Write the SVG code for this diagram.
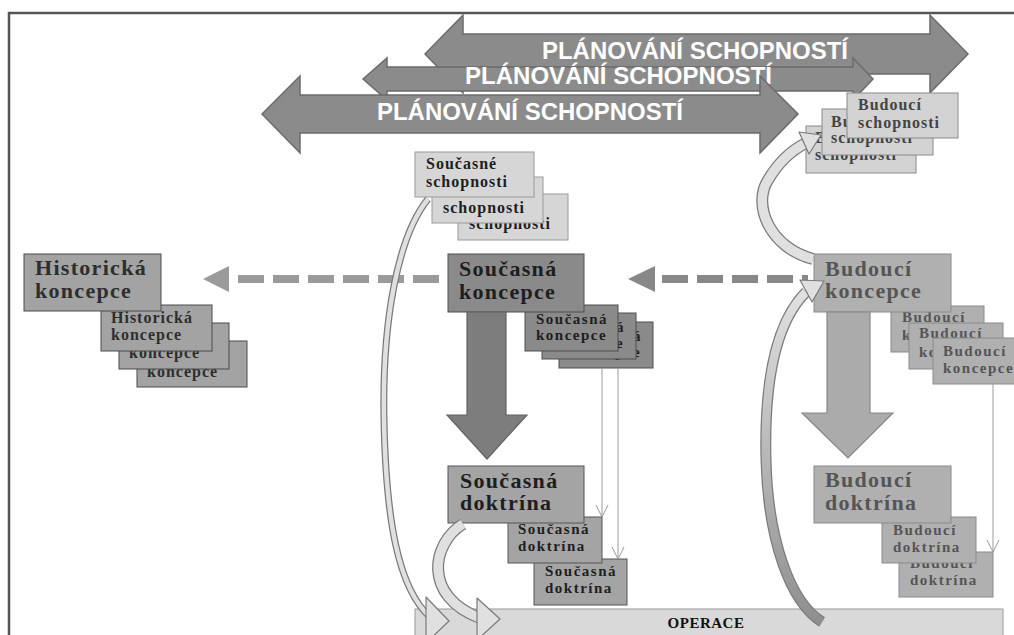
<svg xmlns="http://www.w3.org/2000/svg" width="1014" height="635" viewBox="0 0 1014 635">
<defs>
<style>
.frame{fill:none;stroke:#555;stroke-width:2.5}
.band{fill:#8b8b8b;stroke:#6b6b6b;stroke-width:1.5}
.bt{font-family:"Liberation Sans",Arial,sans-serif;font-weight:bold;font-size:24px;fill:#fff}
.t{font-family:"Liberation Serif","Times New Roman",serif;font-weight:bold}
.b22{font-size:22px;letter-spacing:1.3px}
.s16{font-size:16px;letter-spacing:1px}
.s15{font-size:15px;letter-spacing:1.5px}
.hist{fill:#a3a3a3;stroke:#4a4a4a;stroke-width:1}
.htx{fill:#2e2e2e}
.sk{fill:#8a8a8a;stroke:#4e4e4e;stroke-width:1}
.sd{fill:#a4a4a4;stroke:#555;stroke-width:1}
.stx{fill:#1e1e1e}
.ss{fill:#d6d6d6;stroke:#9a9a9a;stroke-width:1}
.bk{fill:#b0b0b0;stroke:#8a8a8a;stroke-width:1}
.btx{fill:#555}
.bs{fill:#d3d3d3;stroke:#8a8a8a;stroke-width:1}
.bstx{fill:#444}
.op{fill:#d9d9d9;stroke:#9a9a9a;stroke-width:1}
.thin{fill:none;stroke:#9a9a9a;stroke-width:1}
.co{fill:none;stroke:#7a7a7a}
.ci{fill:none;stroke:#e0e0e0}
.ch{fill:#e0e0e0;stroke:#7a7a7a;stroke-width:1.2;stroke-linejoin:round}
</style>
<linearGradient id="gC" gradientUnits="userSpaceOnUse" x1="800" y1="625" x2="800" y2="285">
<stop offset="0" stop-color="#8e8e8e"/>
<stop offset="1" stop-color="#e2e2e2"/>
</linearGradient>
</defs>
<rect width="1014" height="635" fill="#fff"/>
<path class="frame" d="M9,635 V13 H1014"/>

<g id="plan1">
<polygon class="band" points="425,54 463,15 463,34 930,34 930,15 968,54 930,93 930,74 463,74 463,93"/>
<text class="bt" x="542" y="59" textLength="306" lengthAdjust="spacingAndGlyphs">PLÁNOVÁNÍ SCHOPNOSTÍ</text>
</g>
<g id="plan2">
<polygon class="band" points="363,79 387,58 387,67 853,67 853,58 873,79 853,100 853,91 387,91 387,100"/>
<text class="bt" x="465" y="84" textLength="307" lengthAdjust="spacingAndGlyphs">PLÁNOVÁNÍ SCHOPNOSTÍ</text>
</g>
<g id="plan3">
<polygon class="band" points="262,114 300,76 300,95 760,95 760,76 798,114 760,153 760,133 300,133 300,153"/>
<text class="bt" x="377" y="120" textLength="306" lengthAdjust="spacingAndGlyphs">PLÁNOVÁNÍ SCHOPNOSTÍ</text>
</g>

<g id="operace">
<rect class="op" x="415" y="609" width="588" height="30"/>
<text class="t" x="706" y="628" font-size="15" letter-spacing="0.5" text-anchor="middle" fill="#111">OPERACE</text>
</g>

<g id="historicka-stack">
<rect class="hist" x="137" y="341" width="110" height="46"/>
<text class="t s16 htx" x="147" y="377">koncepce</text>
<rect class="hist" x="119" y="323" width="110" height="46"/>
<text class="t s16 htx" x="129" y="358">koncepce</text>
<rect class="hist" x="101" y="305" width="111" height="46"/>
<text class="t s16 htx"><tspan x="111" y="323">Historická</tspan><tspan x="111" y="340">koncepce</tspan></text>
</g>
<g id="historicka-koncepce">
<rect class="hist" x="24" y="254" width="137" height="57"/>
<text class="t b22 htx"><tspan x="35" y="275">Historická</tspan><tspan x="35" y="298">koncepce</tspan></text>
</g>

<g id="soucasne-schopnosti">
<rect class="ss" x="458" y="194" width="110" height="46"/>
<text class="t s16 stx" x="469" y="229">schopnosti</text>
<rect class="ss" x="432" y="177" width="111" height="46"/>
<text class="t s16 stx" x="443" y="213">schopnosti</text>
<rect class="ss" x="415" y="152" width="119" height="45"/>
<text class="t s16 stx"><tspan x="426" y="169">Současné</tspan><tspan x="426" y="187">schopnosti</tspan></text>
</g>

<g id="soucasna-koncepce-stack">
<rect class="sk" x="559" y="322" width="94" height="46"/>
<text class="t s15 stx"><tspan x="570" y="341">Současná</tspan><tspan x="570" y="357">koncepce</tspan></text>
<rect class="sk" x="542" y="313" width="94" height="46"/>
<text class="t s15 stx"><tspan x="553" y="332">Současná</tspan><tspan x="553" y="348">koncepce</tspan></text>
<rect class="sk" x="525" y="305" width="93" height="46"/>
<text class="t s15 stx"><tspan x="536" y="324">Současná</tspan><tspan x="536" y="340">koncepce</tspan></text>
</g>
<g id="soucasna-koncepce">
<rect class="sk" x="448" y="254" width="136" height="58"/>
<text class="t b22 stx"><tspan x="459" y="276">Současná</tspan><tspan x="459" y="299">koncepce</tspan></text>
</g>

<g id="soucasna-doktrina-stack">
<rect class="sd" x="534" y="559" width="93" height="46"/>
<text class="t s15 stx"><tspan x="545" y="576">Současná</tspan><tspan x="545" y="593">doktrína</tspan></text>
<rect class="sd" x="508" y="517" width="94" height="46"/>
<text class="t s15 stx"><tspan x="518" y="534">Současná</tspan><tspan x="518" y="551">doktrína</tspan></text>
</g>
<g id="soucasna-doktrina">
<rect class="sd" x="448" y="466" width="136" height="57"/>
<text class="t b22 stx"><tspan x="460" y="488">Současná</tspan><tspan x="460" y="510">doktrína</tspan></text>
</g>

<g id="budouci-schopnosti">
<rect class="bs" x="806" y="126" width="110" height="47"/>
<text class="t s16 bstx"><tspan x="815" y="143">Budoucí</tspan><tspan x="815" y="160">schopnosti</tspan></text>
<rect class="bs" x="822" y="109" width="111" height="46"/>
<text class="t s16 bstx"><tspan x="831" y="127">Budoucí</tspan><tspan x="831" y="143">schopnosti</tspan></text>
<rect class="bs" x="847" y="93" width="111" height="45"/>
<text class="t s16 bstx"><tspan x="858" y="110">Budoucí</tspan><tspan x="858" y="128">schopnosti</tspan></text>
</g>

<g id="budouci-koncepce-stack">
<rect class="bk" x="891" y="306" width="93" height="46"/>
<text class="t s15 btx"><tspan x="902" y="322">Budoucí</tspan><tspan x="902" y="340">koncepce</tspan></text>
<rect class="bk" x="909" y="323" width="94" height="46"/>
<text class="t s15 btx"><tspan x="919" y="338">Budoucí</tspan><tspan x="919" y="357">koncepce</tspan></text>
<rect class="bk" x="933" y="338" width="95" height="46"/>
<text class="t s15 btx"><tspan x="943" y="356">Budoucí</tspan><tspan x="943" y="373">koncepce</tspan></text>
</g>
<g id="budouci-koncepce">
<rect class="bk" x="814" y="254" width="137" height="58"/>
<text class="t b22 btx"><tspan x="825" y="276">Budoucí</tspan><tspan x="825" y="298">koncepce</tspan></text>
</g>

<g id="budouci-doktrina-stack">
<rect class="bk" x="899" y="552" width="94" height="45"/>
<text class="t s15 btx"><tspan x="910" y="568">Budoucí</tspan><tspan x="910" y="585">doktrína</tspan></text>
<rect class="bk" x="882" y="517" width="94" height="46"/>
<text class="t s15 btx"><tspan x="893" y="535">Budoucí</tspan><tspan x="893" y="552">doktrína</tspan></text>
</g>
<g id="budouci-doktrina">
<rect class="bk" x="814" y="466" width="137" height="57"/>
<text class="t b22 btx"><tspan x="825" y="487">Budoucí</tspan><tspan x="825" y="510">doktrína</tspan></text>
</g>

<g id="connectors">
<line x1="439" y1="279" x2="236" y2="279" stroke="#9a9a9a" stroke-width="8" stroke-dasharray="26 9"/>
<polygon points="203,279 229,266 229,292" fill="#9a9a9a"/>
<line x1="662" y1="279" x2="808" y2="279" stroke="#888" stroke-width="8" stroke-dasharray="26 9"/>
<polygon points="628,279 655,266 655,292" fill="#888"/>
<polygon points="467,312 506,312 506,415 527,415 487,459 447,415 467,415" fill="#7d7d7d" stroke="#636363" stroke-width="1.2"/>
<polygon points="827,312 870,312 870,413 893,413 848,458 802,413 827,413" fill="#ababab" stroke="#888" stroke-width="1.2"/>
<path class="thin" d="M602,368 V517 M596,505 L602,517 L608,505"/>
<path class="thin" d="M618,368 V559 M612,547 L618,559 L624,547"/>
<path class="thin" d="M993,384 V552 M987,540 L993,552 L999,540"/>
<path class="co" stroke-width="7" d="M428,199 C398,236 382,320 384,420 C386,520 398,588 430,617"/>
<path class="ci" stroke-width="4.5" d="M428,199 C398,236 382,320 384,420 C386,520 398,588 430,617"/>
<polygon class="ch" points="426,597 449,621 426,643"/>
<path class="co" stroke-width="12" d="M463,524 C432,543 422,596 480,618"/>
<path class="ci" stroke-width="9.5" d="M463,524 C432,543 422,596 480,618"/>
<polygon class="ch" points="477,598 500,619 477,640"/>
<path class="co" stroke-width="11" stroke="#666" d="M822,622 C790,602 768,540 766,460 C764,380 776,322 806,292"/>
<path fill="none" stroke="url(#gC)" stroke-width="8.5" d="M822,622 C790,602 768,540 766,460 C764,380 776,322 806,292"/>
<polygon class="ch" points="800,280 824,281 812,302"/>
<path class="co" stroke-width="12" d="M813,259 C770,248 752,205 768,180 C778,163 792,150 806,143"/>
<path class="ci" stroke-width="9.5" d="M813,259 C770,248 752,205 768,180 C778,163 792,150 806,143"/>
<polygon class="ch" points="799,132 821,135 809,154"/>
</g>
</svg>
